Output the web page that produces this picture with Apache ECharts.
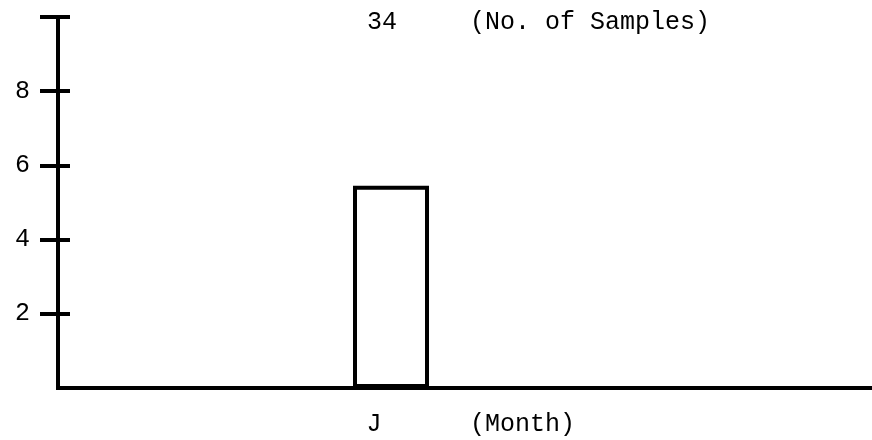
<!DOCTYPE html>
<html>
<head>
<meta charset="utf-8">
<script src="https://cdn.jsdelivr.net/npm/echarts@6/dist/echarts.min.js"></script>
<style>
  html, body { margin: 0; padding: 0; background: #fff; }
  #chart { width: 872px; height: 440px; }
</style>
</head>
<body>
<div id="chart"></div>
<script>
// --- data ---
const monthCats = ['', '', '', '', 'J', '', '', '', '', '', '']
const sampleCounts = ['-', '-', '-', '-', 5.45, '-', '-', '-', '-', '-', '-']
const yTickValues = [2, 4, 6, 8, 10]
const yLabelValues = [2, 4, 6, 8]
const stationLabel = '34'
const yName = '(No. of Samples)'
const xName = '(Month)'

const FONT = "'Liberation Mono', 'Courier New', monospace"
const ink = '#000'

const chart = echarts.init(document.getElementById('chart'))

const option = {
  animation: false,
  backgroundColor: '#fff',
  grid: { left: 58, top: 17, right: 0, bottom: 52 },
  title: [
    { text: stationLabel, left: 367, top: 10, padding: 0,
      textStyle: { fontFamily: FONT, fontSize: 25, fontWeight: 'normal', color: ink } },
    { text: yName, left: 470, top: 10, padding: 0,
      textStyle: { fontFamily: FONT, fontSize: 25, fontWeight: 'normal', color: ink } },
    { text: xName, left: 470, top: 412, padding: 0,
      textStyle: { fontFamily: FONT, fontSize: 25, fontWeight: 'normal', color: ink } },
  ],
  xAxis: {
    type: 'category',
    data: monthCats,
    axisLine: { lineStyle: { color: ink, width: 4, cap: 'square' } },
    axisTick: { show: false },
    axisLabel: {
      interval: 0,
      margin: 24,
      padding: [0, 34, 0, 0],
      fontFamily: FONT, fontSize: 25, color: ink,
    },
  },
  yAxis: [
    {
      type: 'value',
      min: 0, max: 10, interval: 2,
      axisLine: { show: true, lineStyle: { color: ink, width: 4, cap: 'square' } },
      axisTick: { show: true, length: 18, customValues: yTickValues,
        lineStyle: { color: ink, width: 4 } },
      axisLabel: { customValues: yLabelValues, margin: 28,
        fontFamily: FONT, fontSize: 25, color: ink },
      splitLine: { show: false },
    },
    {
      // second axis only draws the inner half of each tick
      type: 'value',
      position: 'left',
      min: 0, max: 10, interval: 2,
      axisLine: { show: false },
      axisTick: { show: true, inside: true, length: 12, customValues: yTickValues,
        lineStyle: { color: ink, width: 4 } },
      axisLabel: { show: false },
      splitLine: { show: false },
    },
  ],
  series: [
    {
      type: 'bar',
      yAxisIndex: 0,
      data: sampleCounts,
      barWidth: 76,
      itemStyle: { color: '#fff', borderColor: ink, borderWidth: 4 },
    },
  ],
}

chart.setOption(option)
</script>
</body>
</html>
